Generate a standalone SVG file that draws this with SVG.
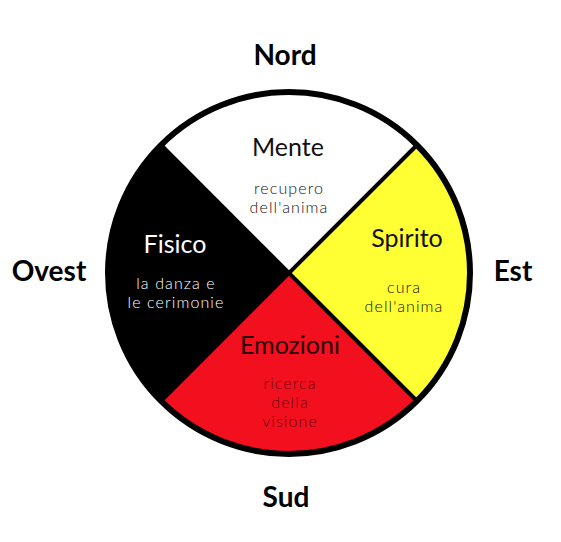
<svg xmlns="http://www.w3.org/2000/svg" width="561" height="542" viewBox="0 0 561 542">
<style>
.dir{font-family:Lato,"Liberation Sans",sans-serif;font-weight:bold;font-size:28px;fill:#000;text-anchor:middle}
.ttl{font-family:Lato,"Open Sans",sans-serif;font-size:25px;text-anchor:middle}
.sub{font-family:Lato,"Open Sans",sans-serif;font-weight:300;font-size:16px;letter-spacing:1.1px;text-anchor:middle}
.div{stroke:#000;stroke-width:4;fill:none}
</style>
<rect width="561" height="542" fill="#fff"/>
<g id="mente">
<path d="M289,273 L161,145 A181,181 0 0 1 417,145 Z" fill="#fff"/>
<text class="ttl" x="288" y="156" fill="#111">Mente</text>
<text class="sub" x="289" y="194" fill="#111">recupero</text>
<text class="sub" x="289" y="213" fill="#111">dell'anima</text>
</g>
<g id="spirito">
<path d="M289,273 L417,145 A181,181 0 0 1 417,401 Z" fill="#ffff33"/>
<text class="ttl" x="407" y="247" fill="#111">Spirito</text>
<text class="sub" x="404" y="293" fill="#111">cura</text>
<text class="sub" x="404" y="312" fill="#111">dell'anima</text>
</g>
<g id="emozioni">
<path d="M289,273 L417,401 A181,181 0 0 1 161,401 Z" fill="#f2101e"/>
<text class="ttl" x="290" y="354" fill="#2a0006">Emozioni</text>
<text class="sub" x="290" y="389" fill="#6a0010">ricerca</text>
<text class="sub" x="290" y="408" fill="#6a0010">della</text>
<text class="sub" x="290" y="427" fill="#6a0010">visione</text>
</g>
<g id="fisico">
<path d="M289,273 L161,401 A181,181 0 0 1 161,145 Z" fill="#000"/>
<text class="ttl" x="175" y="253" fill="#fff">Fisico</text>
<text class="sub" x="176" y="289" fill="#fff">la danza e</text>
<text class="sub" x="176" y="308" fill="#fff">le cerimonie</text>
</g>
<g id="connectors">
<line class="div" x1="161" y1="145" x2="417" y2="401"/>
<line class="div" x1="417" y1="145" x2="161" y2="401"/>
<circle cx="289" cy="273" r="181" fill="none" stroke="#000" stroke-width="6"/>
</g>
<g id="directions">
<text class="dir" x="285" y="65">Nord</text>
<text class="dir" x="286" y="507">Sud</text>
<text class="dir" x="49" y="281">Ovest</text>
<text class="dir" x="513" y="281">Est</text>
</g>
</svg>
